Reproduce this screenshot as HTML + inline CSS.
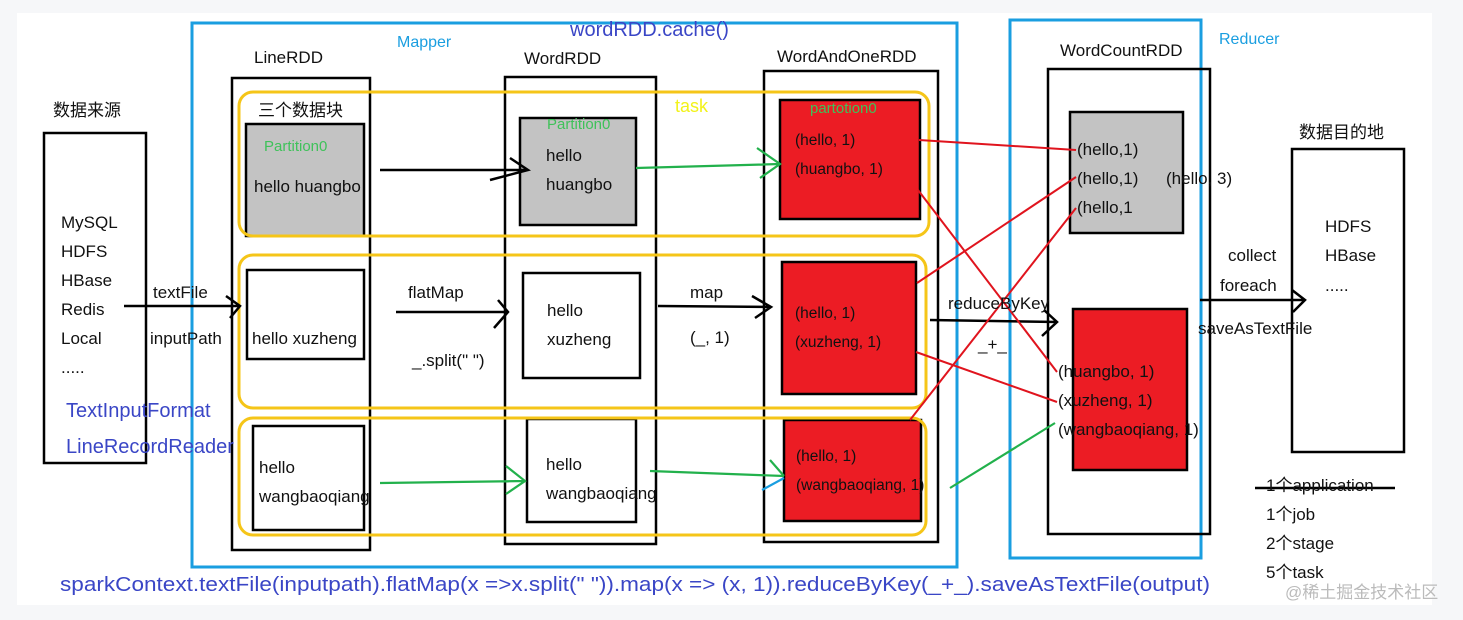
<!DOCTYPE html>
<html><head><meta charset="utf-8"><style>
html,body{margin:0;padding:0;background:#f6f7f9;}
svg{display:block;}
text{font-family:"Liberation Sans","Noto Sans CJK SC",sans-serif;font-size:17px;fill:#111;}
.b{fill:#3a46c6;font-size:20px;}
.c{fill:#1a9ee0;font-size:16px;}
.g{fill:#3fc25a;font-size:15px;}
.s{font-size:15.5px;}
</style></head><body>
<svg width="1463" height="620" viewBox="0 0 1463 620" xmlns="http://www.w3.org/2000/svg">
<rect x="17" y="13" width="1415" height="592" fill="#fff"/>
<rect x="192" y="23" width="765" height="544" fill="none" stroke="#1a9ee0" stroke-width="3"/>
<rect x="1010" y="20" width="191" height="538" fill="none" stroke="#1a9ee0" stroke-width="3"/>
<g fill="none" stroke="#000" stroke-width="2.5">
<rect x="44" y="133" width="102" height="330"/>
<rect x="232" y="78" width="138" height="472"/>
<rect x="505" y="77" width="151" height="467"/>
<rect x="764" y="71" width="174" height="471"/>
<rect x="1048" y="69" width="162" height="465"/>
<rect x="1292" y="149" width="112" height="303"/>
</g>
<g stroke="#000" stroke-width="2.5">
<rect x="246" y="124" width="118" height="112" fill="#c3c3c3"/>
<rect x="247" y="270" width="117" height="89" fill="#fff"/>
<rect x="253" y="426" width="111" height="104" fill="#fff"/>
<rect x="520" y="118" width="116" height="107" fill="#c3c3c3"/>
<rect x="523" y="273" width="117" height="105" fill="#fff"/>
<rect x="527" y="419" width="109" height="103" fill="#fff"/>
<rect x="780" y="100" width="140" height="119" fill="#ec1c24"/>
<rect x="782" y="262" width="134" height="132" fill="#ec1c24"/>
<rect x="784" y="420" width="137" height="101" fill="#ec1c24"/>
<rect x="1070" y="112" width="113" height="121" fill="#c3c3c3"/>
<rect x="1073" y="309" width="114" height="161" fill="#ec1c24"/>
</g>
<g fill="none" stroke="#f5c518" stroke-width="3">
<rect x="239" y="92" width="690" height="144" rx="14"/>
<rect x="239" y="255" width="687" height="153" rx="14"/>
<rect x="239" y="418" width="687" height="117" rx="14"/>
</g>
<g fill="none" stroke="#000" stroke-width="2.5">
<path d="M124 306 L240 306 M226 296 L240 306 L230 318"/>
<path d="M380 170 L528 170 M510 158 L528 170 L490 180"/>
<path d="M396 312 L508 312 M498 300 L508 312 L494 328"/>
<path d="M658 306 L771 307 M752 296 L771 307 L755 318"/>
<path d="M930 320 L1057 322 M1044 310 L1057 322 L1042 336"/>
<path d="M1200 300 L1305 300 M1292 290 L1305 300 L1293 312"/>
<path d="M1255 488 L1395 488"/>
</g>
<g fill="none" stroke="#22b14c" stroke-width="2.2">
<path d="M636 168 L780 164 M757 148 L780 164 L760 178"/>
<path d="M380 483 L525 481 M506 466 L525 481 L506 494"/>
<path d="M650 471 L784 476 M770 460 L784 476"/>
<path d="M950 488 L1055 423"/>
</g>
<path d="M762 490 L784 478" stroke="#1a9ee0" stroke-width="2.2"/>
<g stroke="#e0141e" stroke-width="2" fill="none">
<path d="M919 140 L1076 150"/>
<path d="M917 283 L1076 177"/>
<path d="M910 420 L1076 208"/>
<path d="M918 190 L1057 372"/>
<path d="M916 352 L1057 402"/>
</g>
<text x="53" y="116">数据来源</text>
<text x="61" y="228">MySQL</text>
<text x="61" y="257">HDFS</text>
<text x="61" y="286">HBase</text>
<text x="61" y="315">Redis</text>
<text x="61" y="344">Local</text>
<text x="61" y="373">.....</text>
<text class="b" x="66" y="417">TextInputFormat</text>
<text class="b" x="66" y="453">LineRecordReader</text>
<text x="153" y="298">textFile</text>
<text x="150" y="344">inputPath</text>
<text class="c" x="397" y="47">Mapper</text>
<text class="b" x="570" y="36">wordRDD.cache()</text>
<text class="c" x="1219" y="44">Reducer</text>
<text x="254" y="63">LineRDD</text>
<text x="524" y="64">WordRDD</text>
<text x="777" y="62">WordAndOneRDD</text>
<text x="1060" y="56">WordCountRDD</text>
<text x="1299" y="138">数据目的地</text>
<text x="258" y="116">三个数据块</text>
<text class="g" x="264" y="151">Partition0</text>
<text x="254" y="192">hello huangbo</text>
<text x="252" y="344">hello xuzheng</text>
<text x="259" y="473">hello</text>
<text x="259" y="502">wangbaoqiang</text>
<text class="g" x="547" y="129">Partition0</text>
<text x="546" y="161">hello</text>
<text x="546" y="190">huangbo</text>
<text x="547" y="316">hello</text>
<text x="547" y="345">xuzheng</text>
<text x="546" y="470">hello</text>
<text x="546" y="499">wangbaoqiang</text>
<text x="675" y="112" style="fill:#f2f21a;font-size:18px">task</text>
<text class="g" x="810" y="113">partotion0</text>
<text class="s" x="795" y="145">(hello, 1)</text>
<text class="s" x="795" y="174">(huangbo, 1)</text>
<text class="s" x="795" y="318">(hello, 1)</text>
<text class="s" x="795" y="347">(xuzheng, 1)</text>
<text class="s" x="796" y="461">(hello, 1)</text>
<text class="s" x="796" y="490">(wangbaoqiang, 1)</text>
<text x="408" y="298">flatMap</text>
<text x="412" y="366">_.split(" ")</text>
<text x="690" y="298">map</text>
<text x="690" y="343">(_, 1)</text>
<text x="948" y="309">reduceByKey</text>
<text x="978" y="350">_+_</text>
<text x="1077" y="155">(hello,1)</text>
<text x="1077" y="184">(hello,1)</text>
<text x="1077" y="213">(hello,1</text>
<text x="1166" y="184">(hello, 3)</text>
<text x="1058" y="377">(huangbo, 1)</text>
<text x="1058" y="406">(xuzheng, 1)</text>
<text x="1058" y="435">(wangbaoqiang, 1)</text>
<text x="1228" y="261">collect</text>
<text x="1220" y="291">foreach</text>
<text x="1198" y="334">saveAsTextFile</text>
<text x="1325" y="232">HDFS</text>
<text x="1325" y="261">HBase</text>
<text x="1325" y="291">.....</text>
<text x="1266" y="491">1个application</text>
<text x="1266" y="520">1个job</text>
<text x="1266" y="549">2个stage</text>
<text x="1266" y="578">5个task</text>
<text class="b" x="60" y="591" textLength="1150" lengthAdjust="spacingAndGlyphs">sparkContext.textFile(inputpath).flatMap(x =&gt;x.split(" ")).map(x =&gt; (x, 1)).reduceByKey(_+_).saveAsTextFile(output)</text>
<text x="1285" y="598" style="fill:#bbb;font-size:17px">@稀土掘金技术社区</text>
</svg>
</body></html>
